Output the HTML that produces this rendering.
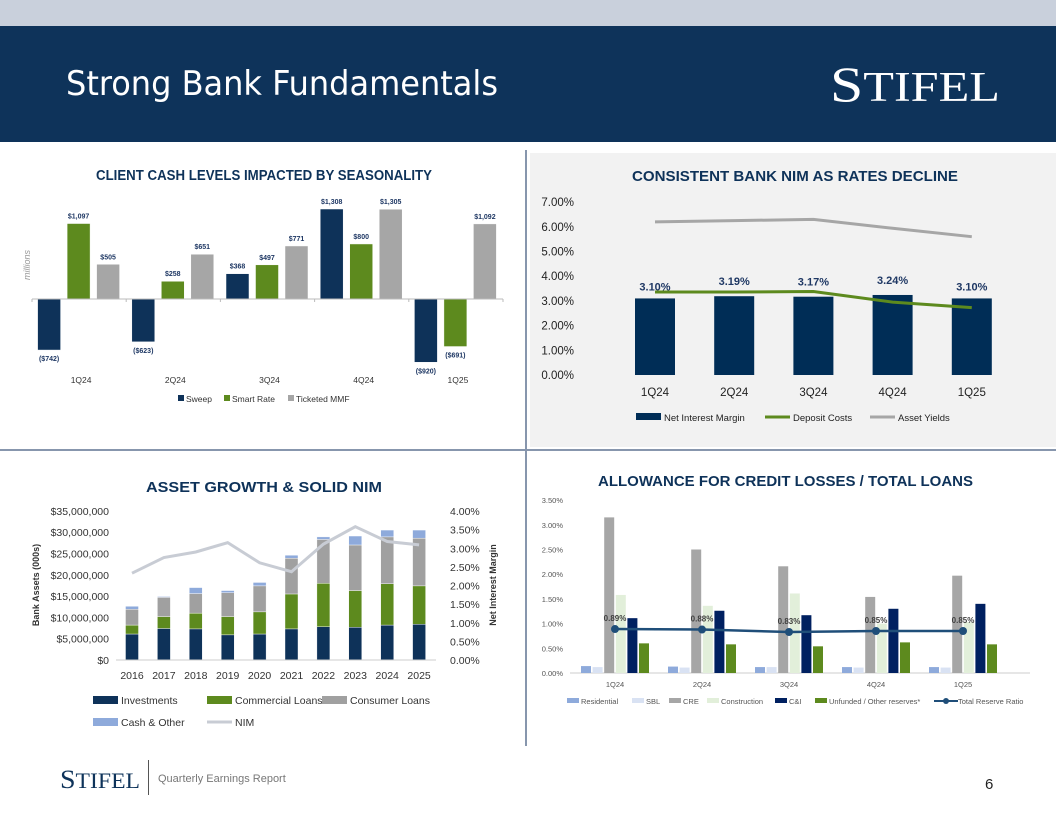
<!DOCTYPE html>
<html><head><meta charset="utf-8"><style>
body{margin:0;width:1056px;height:816px;overflow:hidden;background:#fff;font-family:"Liberation Sans",sans-serif}
svg text{font-family:"Liberation Sans",sans-serif}
</style></head><body>
<svg id="s" width="1056" height="816" xmlns="http://www.w3.org/2000/svg">
<rect x="0" y="0" width="1056" height="26" fill="#c9d0dc"/>
<rect x="0" y="26" width="1056" height="116" fill="#0e335a"/>
<text x="66" y="95" font-size="34" fill="#fff" textLength="432" lengthAdjust="spacingAndGlyphs" style="font-family:'DejaVu Sans Condensed','Liberation Sans',sans-serif">Strong Bank Fundamentals</text>
<text x="830" y="101" font-size="50" fill="#fff" textLength="170" lengthAdjust="spacingAndGlyphs" style="font-family:'Liberation Serif',serif">S<tspan font-size="42">TIFEL</tspan></text>
<rect x="530" y="153" width="526" height="294" fill="#f2f2f2"/>
<rect x="525" y="150" width="2" height="596" fill="#8796ad"/>
<rect x="0" y="449" width="1056" height="2" fill="#8796ad"/>
<text x="60" y="788" font-size="26" fill="#0e335a" textLength="80" lengthAdjust="spacingAndGlyphs" style="font-family:'Liberation Serif',serif">S<tspan font-size="22">TIFEL</tspan></text>
<rect x="148" y="760" width="1" height="35" fill="#555"/>
<text x="158" y="782" font-size="11" fill="#777">Quarterly Earnings Report</text>
<text x="985" y="789" font-size="15" fill="#222">6</text>
<g id="c1"></g><g id="c2"></g><g id="c3"></g><g id="c4"></g>
</svg>
<script>
// Chart 1
const cashCats=["1Q24","2Q24","3Q24","4Q24","1Q25"];
const sweep=[-742,-623,368,1308,-920];
const smartRate=[1097,258,497,800,-691];
const ticketedMMF=[505,651,771,1305,1092];
// Chart 2
const nimCats=["1Q24","2Q24","3Q24","4Q24","1Q25"];
const nimVals=[3.10,3.19,3.17,3.24,3.10];
const depositCosts=[3.36,3.36,3.38,2.95,2.73];
const assetYields=[6.20,6.25,6.30,5.94,5.60];
const nimTicks=[0,1,2,3,4,5,6,7];
// Chart 3
const years=["2016","2017","2018","2019","2020","2021","2022","2023","2024","2025"];
const investments=[6.1,7.4,7.3,5.9,6.1,7.3,7.8,7.7,8.2,8.4];
const commercialLoans=[2.1,2.8,3.7,4.3,5.2,8.2,10.2,8.6,9.7,9.0];
const consumerLoans=[3.7,4.5,4.6,5.6,6.1,8.4,10.3,10.7,11.0,11.2];
const cashOther=[0.7,0.2,1.4,0.5,0.8,0.7,0.6,2.1,1.6,1.9];
const nimLine=[2.33,2.75,2.90,3.15,2.61,2.37,3.11,3.58,3.18,3.09];
const assetTicks=["$0","$5,000,000","$10,000,000","$15,000,000","$20,000,000","$25,000,000","$30,000,000","$35,000,000"];
const pctTicks=["0.00%","0.50%","1.00%","1.50%","2.00%","2.50%","3.00%","3.50%","4.00%"];
// Chart 4
const aclCats=["1Q24","2Q24","3Q24","4Q24","1Q25"];
const residential=[0.14,0.13,0.12,0.12,0.12];
const sbl=[0.12,0.11,0.12,0.11,0.11];
const cre=[3.15,2.50,2.16,1.54,1.97];
const construction=[1.58,1.36,1.61,1.00,1.03];
const candi=[1.11,1.26,1.17,1.30,1.40];
const unfunded=[0.60,0.58,0.54,0.62,0.58];
const totalReserve=[0.89,0.88,0.83,0.85,0.85];
const aclTicks=[0,0.5,1,1.5,2,2.5,3,3.5];

const NS="http://www.w3.org/2000/svg";
function mk(p,tag,at,txt){const e=document.createElementNS(NS,tag);for(const k in at)e.setAttribute(k,at[k]);if(txt!==undefined)e.textContent=txt;p.appendChild(e);return e;}
const NAVY="#0e3259",GREEN="#5d8a1e",GRAY="#a6a6a6";
function fmt$(v){const s="$"+Math.abs(v).toLocaleString("en-US");return v<0?"("+s+")":s;}

// ---- Chart 1
(function(){const g=document.getElementById("c1");
let t=mk(g,"text",{x:96,y:180,"font-size":14.5,"font-weight":"bold",fill:NAVY,textLength:336,lengthAdjust:"spacingAndGlyphs"},"CLIENT CASH LEVELS IMPACTED BY SEASONALITY");

t=mk(g,"text",{x:0,y:0,"font-size":9,"font-style":"italic",fill:"#999","text-anchor":"middle",transform:"translate(30,265) rotate(-90)"},"millions");

const y0=299,k=90/1308,x0=32,gw=94.2;
const y=v=>y0-v*k;
const series=[[sweep,NAVY,"sweep"],[smartRate,GREEN,"smart-rate"],[ticketedMMF,GRAY,"ticketed-mmf"]];
cashCats.forEach((c,i)=>{const cx=x0+gw*(i+0.5);
 series.forEach((s,j)=>{const v=s[0][i];const bx=cx-41.5+j*29.5;
  const r=mk(g,"rect",{x:bx,y:Math.min(y(v),y0),width:23,height:Math.abs(v*k),fill:s[1],stroke:"#fff","stroke-width":0.5});
  
  const l=mk(g,"text",{x:bx+11.5,y:v>=0?y(v)-5:y(v)+11,"font-size":7,"font-weight":"bold",fill:"#1f3864","text-anchor":"middle"},fmt$(v));
  });
 const cl=mk(g,"text",{x:cx+2,y:383,"font-size":8.5,fill:"#333","text-anchor":"middle"},c);
 
});
const ax=mk(g,"line",{x1:x0,x2:x0+gw*5,y1:y0,y2:y0,stroke:"#bbb","stroke-width":1});

for(let i=0;i<=5;i++){const tk=mk(g,"line",{x1:x0+gw*i,x2:x0+gw*i,y1:y0,y2:y0+3,stroke:"#bbb"});}
[[178,NAVY,"Sweep"],[224,GREEN,"Smart Rate"],[288,GRAY,"Ticketed MMF"]].forEach(e=>{
 const lg=mk(g,"g",{});
 mk(lg,"rect",{x:e[0],y:395,width:6,height:6,fill:e[1]});mk(lg,"text",{x:e[0]+8,y:402,"font-size":8.5,fill:"#333"},e[2]);});
})();

// ---- Chart 2
(function(){const g=document.getElementById("c2");
let t=mk(g,"text",{x:632,y:181,"font-size":15,"font-weight":"bold",fill:NAVY,textLength:326,lengthAdjust:"spacingAndGlyphs"},"CONSISTENT BANK NIM AS RATES DECLINE");

const y0=375,k=24.7,x=i=>655+79.2*i,y=v=>y0-v*k;
nimTicks.forEach(v=>{const l=mk(g,"text",{x:574,y:y(v)+4,"font-size":11.5,fill:"#222","text-anchor":"end"},v.toFixed(2)+"%");});
nimCats.forEach((c,i)=>{const r=mk(g,"rect",{x:x(i)-20,y:y(nimVals[i]),width:40,height:nimVals[i]*k,fill:"#002d56"});
 
 const l=mk(g,"text",{x:x(i),y:396,"font-size":11.5,fill:"#222","text-anchor":"middle"},c);});
[[assetYields,"#a6a6a6","asset-yields-line"],[depositCosts,"#5d8a1e","deposit-costs-line"]].forEach(s=>{
 const p=mk(g,"polyline",{points:s[0].map((v,i)=>x(i)+","+y(v)).join(" "),fill:"none",stroke:s[1],"stroke-width":3});
 });
nimCats.forEach((c,i)=>{const l=mk(g,"text",{x:x(i),y:y(nimVals[i])-8-(nimVals[i]>3.15?3:0),"font-size":11,"font-weight":"bold",fill:"#1f3864","text-anchor":"middle"},nimVals[i].toFixed(2)+"%");
 });
const L=[[636,"rect","#002d56","Net Interest Margin"],[765,"line","#5d8a1e","Deposit Costs"],[870,"line","#a6a6a6","Asset Yields"]];
L.forEach(e=>{const lg=mk(g,"g",{});
 if(e[1]=="rect")mk(lg,"rect",{x:e[0],y:413,width:25,height:7,fill:e[2]});else mk(lg,"line",{x1:e[0],x2:e[0]+25,y1:417,y2:417,stroke:e[2],"stroke-width":3});
 mk(lg,"text",{x:e[0]+28,y:421,"font-size":9.5,fill:"#222"},e[3]);});
})();

// ---- Chart 3
(function(){const g=document.getElementById("c3");
let t=mk(g,"text",{x:146,y:492,"font-size":15,"font-weight":"bold",fill:NAVY,textLength:236,lengthAdjust:"spacingAndGlyphs"},"ASSET GROWTH & SOLID NIM");

const y0=660,k=21.3/5,kr=149/4,x=i=>132+31.9*i;
assetTicks.forEach((s,i)=>{const l=mk(g,"text",{x:109,y:y0-i*21.3+4,"font-size":10.5,fill:"#333","text-anchor":"end"},s);});
pctTicks.forEach((s,i)=>{const l=mk(g,"text",{x:450,y:y0-i*kr/2+4,"font-size":10.5,fill:"#333"},s);});
t=mk(g,"text",{x:0,y:0,"font-size":9,"font-weight":"bold",fill:"#333","text-anchor":"middle",transform:"translate(39,585) rotate(-90)"},"Bank Assets (000s)");
t=mk(g,"text",{x:0,y:0,"font-size":9,"font-weight":"bold",fill:"#333","text-anchor":"middle",transform:"translate(496,585) rotate(-90)"},"Net Interest Margin");
const S=[[investments,"#0e3259","investments"],[commercialLoans,"#5d8a1e","commercial-loans"],[consumerLoans,"#a0a0a0","consumer-loans"],[cashOther,"#8eaadb","cash-other"]];
years.forEach((yr,i)=>{let acc=0;S.forEach(s=>{const v=s[0][i];const r=mk(g,"rect",{x:x(i)-6.5,y:y0-(acc+v)*k,width:13,height:v*k,fill:s[1],stroke:"#fff","stroke-width":0.4});
 acc+=v;});
 const l=mk(g,"text",{x:x(i),y:679,"font-size":10.5,fill:"#333","text-anchor":"middle"},yr);});
const ax=mk(g,"line",{x1:116,x2:436,y1:y0,y2:y0,stroke:"#ccc"});
const p=mk(g,"polyline",{points:nimLine.map((v,i)=>x(i)+","+(y0-v*kr)).join(" "),fill:"none",stroke:"#c8ccd4","stroke-width":3});

const L=[[93,700,"rect","#0e3259","Investments"],[207,700,"rect","#5d8a1e","Commercial Loans"],[322,700,"rect","#a0a0a0","Consumer Loans"],[93,722,"rect","#8eaadb","Cash & Other"],[207,722,"line","#c8ccd4","NIM"]];
L.forEach(e=>{const lg=mk(g,"g",{});
 if(e[2]=="rect")mk(lg,"rect",{x:e[0],y:e[1]-4,width:25,height:8,fill:e[3]});else mk(lg,"line",{x1:e[0],x2:e[0]+25,y1:e[1],y2:e[1],stroke:e[3],"stroke-width":3});
 mk(lg,"text",{x:e[0]+28,y:e[1]+4,"font-size":10.5,fill:"#333"},e[4]);});
})();

// ---- Chart 4
(function(){const g=document.getElementById("c4");
let t=mk(g,"text",{x:598,y:486,"font-size":15,"font-weight":"bold",fill:NAVY,textLength:375,lengthAdjust:"spacingAndGlyphs"},"ALLOWANCE FOR CREDIT LOSSES / TOTAL LOANS");

const y0=673,k=49.4,x=i=>615+87*i,y=v=>y0-v*k;
aclTicks.forEach(v=>{const l=mk(g,"text",{x:563,y:y(v)+3,"font-size":7.5,fill:"#555","text-anchor":"end"},v.toFixed(2)+"%");});
const ax=mk(g,"line",{x1:570,x2:1030,y1:y0,y2:y0,stroke:"#ccc"});
const S=[[residential,"#8eaadb","residential"],[sbl,"#d9e2f3","sbl"],[cre,"#a6a6a6","cre"],[construction,"#e2efda","construction"],[candi,"#002060","c-and-i"],[unfunded,"#5d8a1e","unfunded"]];
aclCats.forEach((c,i)=>{S.forEach((s,j)=>{const v=s[0][i];const r=mk(g,"rect",{x:x(i)-34+j*11.6,y:y(v),width:10,height:v*k,fill:s[1]});
 });
 const l=mk(g,"text",{x:x(i),y:687,"font-size":7.5,fill:"#555","text-anchor":"middle"},c);});
const p=mk(g,"polyline",{points:totalReserve.map((v,i)=>x(i)+","+y(v)).join(" "),fill:"none",stroke:"#1f4e79","stroke-width":2.5});

totalReserve.forEach((v,i)=>{const m=mk(g,"circle",{cx:x(i),cy:y(v),r:4,fill:"#1f4e79"});
 const l=mk(g,"text",{x:x(i),y:y(v)-8,"font-size":8,"font-weight":"bold",fill:"#404040","text-anchor":"middle"},v.toFixed(2)+"%");});
const L=[[567,"#8eaadb","Residential"],[632,"#d9e2f3","SBL"],[669,"#a6a6a6","CRE"],[707,"#e2efda","Construction"],[775,"#002060","C&I"],[815,"#5d8a1e","Unfunded / Other reserves*"]];
L.forEach(e=>{const lg=mk(g,"g",{});
 mk(lg,"rect",{x:e[0],y:698,width:12,height:5,fill:e[1]});mk(lg,"text",{x:e[0]+14,y:704,"font-size":7.5,fill:"#555"},e[2]);});
const lg=mk(g,"g",{});
mk(lg,"line",{x1:934,x2:958,y1:701,y2:701,stroke:"#1f4e79","stroke-width":2});mk(lg,"circle",{cx:946,cy:701,r:3,fill:"#1f4e79"});
mk(lg,"text",{x:958,y:704,"font-size":7.5,fill:"#555"},"Total Reserve Ratio");
})();
</script>
</body></html>
